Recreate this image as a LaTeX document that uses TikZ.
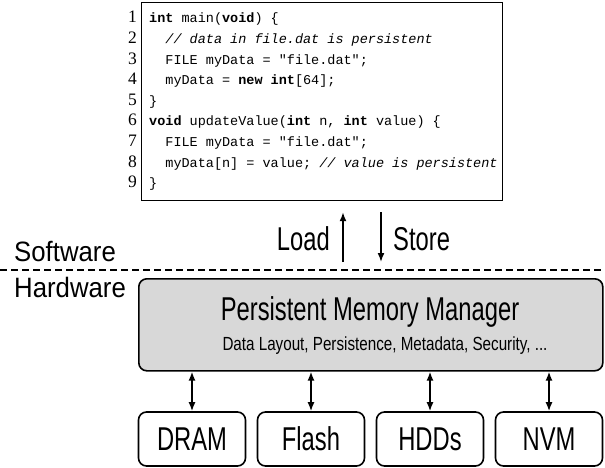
\documentclass[tikz,border=0pt]{standalone}
\usepackage{fontspec}
\setmainfont{Liberation Serif}
\setsansfont{Liberation Sans}[FakeStretch=0.72]
\setmonofont{Liberation Mono}
\newfontfamily\widesans{Liberation Sans}[FakeStretch=0.92]
\newfontfamily\midsans{Liberation Sans}[FakeStretch=0.8]
\usetikzlibrary{arrows.meta}

\tikzset{
  lnum/.style={anchor=base east, inner sep=0, font=\fontsize{17.5}{17.5}\rmfamily},
  codeline/.style={anchor=base west, inner sep=0, font=\fontsize{13.5}{13.5}\ttfamily},
  devbox/.style={draw, line width=1.6pt, rounded corners=8pt, minimum width=107pt,
    minimum height=54pt, inner sep=0, font=\fontsize{33}{33}\sffamily},
  updown/.style={line width=1.6pt, {Latex[length=9pt,width=7pt]}-{Latex[length=9pt,width=7pt]}},
  oneway/.style={line width=1.6pt, -{Latex[length=9pt,width=7pt]}},
  layer/.style={anchor=base west, inner sep=0, font=\fontsize{28}{28}\widesans}
}

\begin{document}
\begin{tikzpicture}[x=1pt,y=-1pt]
\useasboundingbox (0,0) rectangle (605,468);

% code listing
\node [draw, line width=1.2pt, anchor=north west, minimum width=361pt, minimum height=198pt, inner sep=0] (code) at (141,2) {};
\foreach \i in {1,...,9}
  \node [lnum] (n\i) at (137,{23+20.6*(\i-1)}) {\i};
\node [codeline] (l1) at (149,23) {\textbf{int} main(\textbf{void}) \{};
\node [codeline] (l2) at (165.2,43.6) {\textit{// data in file.dat is persistent}};
\node [codeline] (l3) at (165.2,64.2) {FILE myData = "file.dat";};
\node [codeline] (l4) at (165.2,84.8) {myData = \textbf{new int}[64];};
\node [codeline] (l5) at (149,105.4) {\}};
\node [codeline] (l6) at (149,126) {\textbf{void} updateValue(\textbf{int} n, \textbf{int} value) \{};
\node [codeline] (l7) at (165.2,146.6) {FILE myData = "file.dat";};
\node [codeline] (l8) at (165.2,167.2) {myData[n] = value; \textit{// value is persistent}};
\node [codeline] (l9) at (149,187.8) {\}};

% load / store
\coordinate (ld) at (343,262);
\coordinate (st) at (381,262);
\draw [oneway, shorten >=11pt] (ld) -- (ld |- code.south);
\draw [oneway, shorten <=11pt] (st |- code.south) -- (st);
\node [anchor=base east, inner sep=0, font=\fontsize{33}{33}\sffamily] (load) at (330,250) {Load};
\node [anchor=base west, inner sep=0, font=\fontsize{33}{33}\sffamily] (store) at (393,250) {Store};

% software / hardware split
\coordinate (sl) at (0,270);
\coordinate (sr) at (605,270);
\draw [line width=1.8pt, dash pattern={on 6.5pt off 4.5pt}] (sl) -- (sr);
\node [layer] (sw) at (14,261) {Software};
\node [layer] (hw) at (14,297) {Hardware};

% manager
\node [draw, line width=1.6pt, rounded corners=8pt, fill={rgb,255:red,216;green,216;blue,216},
  anchor=north west, minimum width=464pt, minimum height=92pt, inner sep=0] (mgr) at (138,278) {};
\node [anchor=base, inner sep=0, font=\fontsize{33}{33}\sffamily] (title) at (370,320) {Persistent Memory Manager};
\node [anchor=base, inner sep=0, font=\fontsize{19}{19}\midsans] (sub) at (385,350) {Data Layout, Persistence, Metadata, Security, ...};

% devices
\node [devbox] (dram) at (192,439) {DRAM};
\node [devbox] (flash) at (311,439) {Flash};
\node [devbox] (hdd) at (430,439) {HDDs};
\node [devbox] (nvm) at (549,439) {NVM};
\foreach \d in {dram,flash,hdd,nvm}
  \draw [updown] (\d.north) -- (\d.north |- mgr.south);
\end{tikzpicture}
\end{document}
